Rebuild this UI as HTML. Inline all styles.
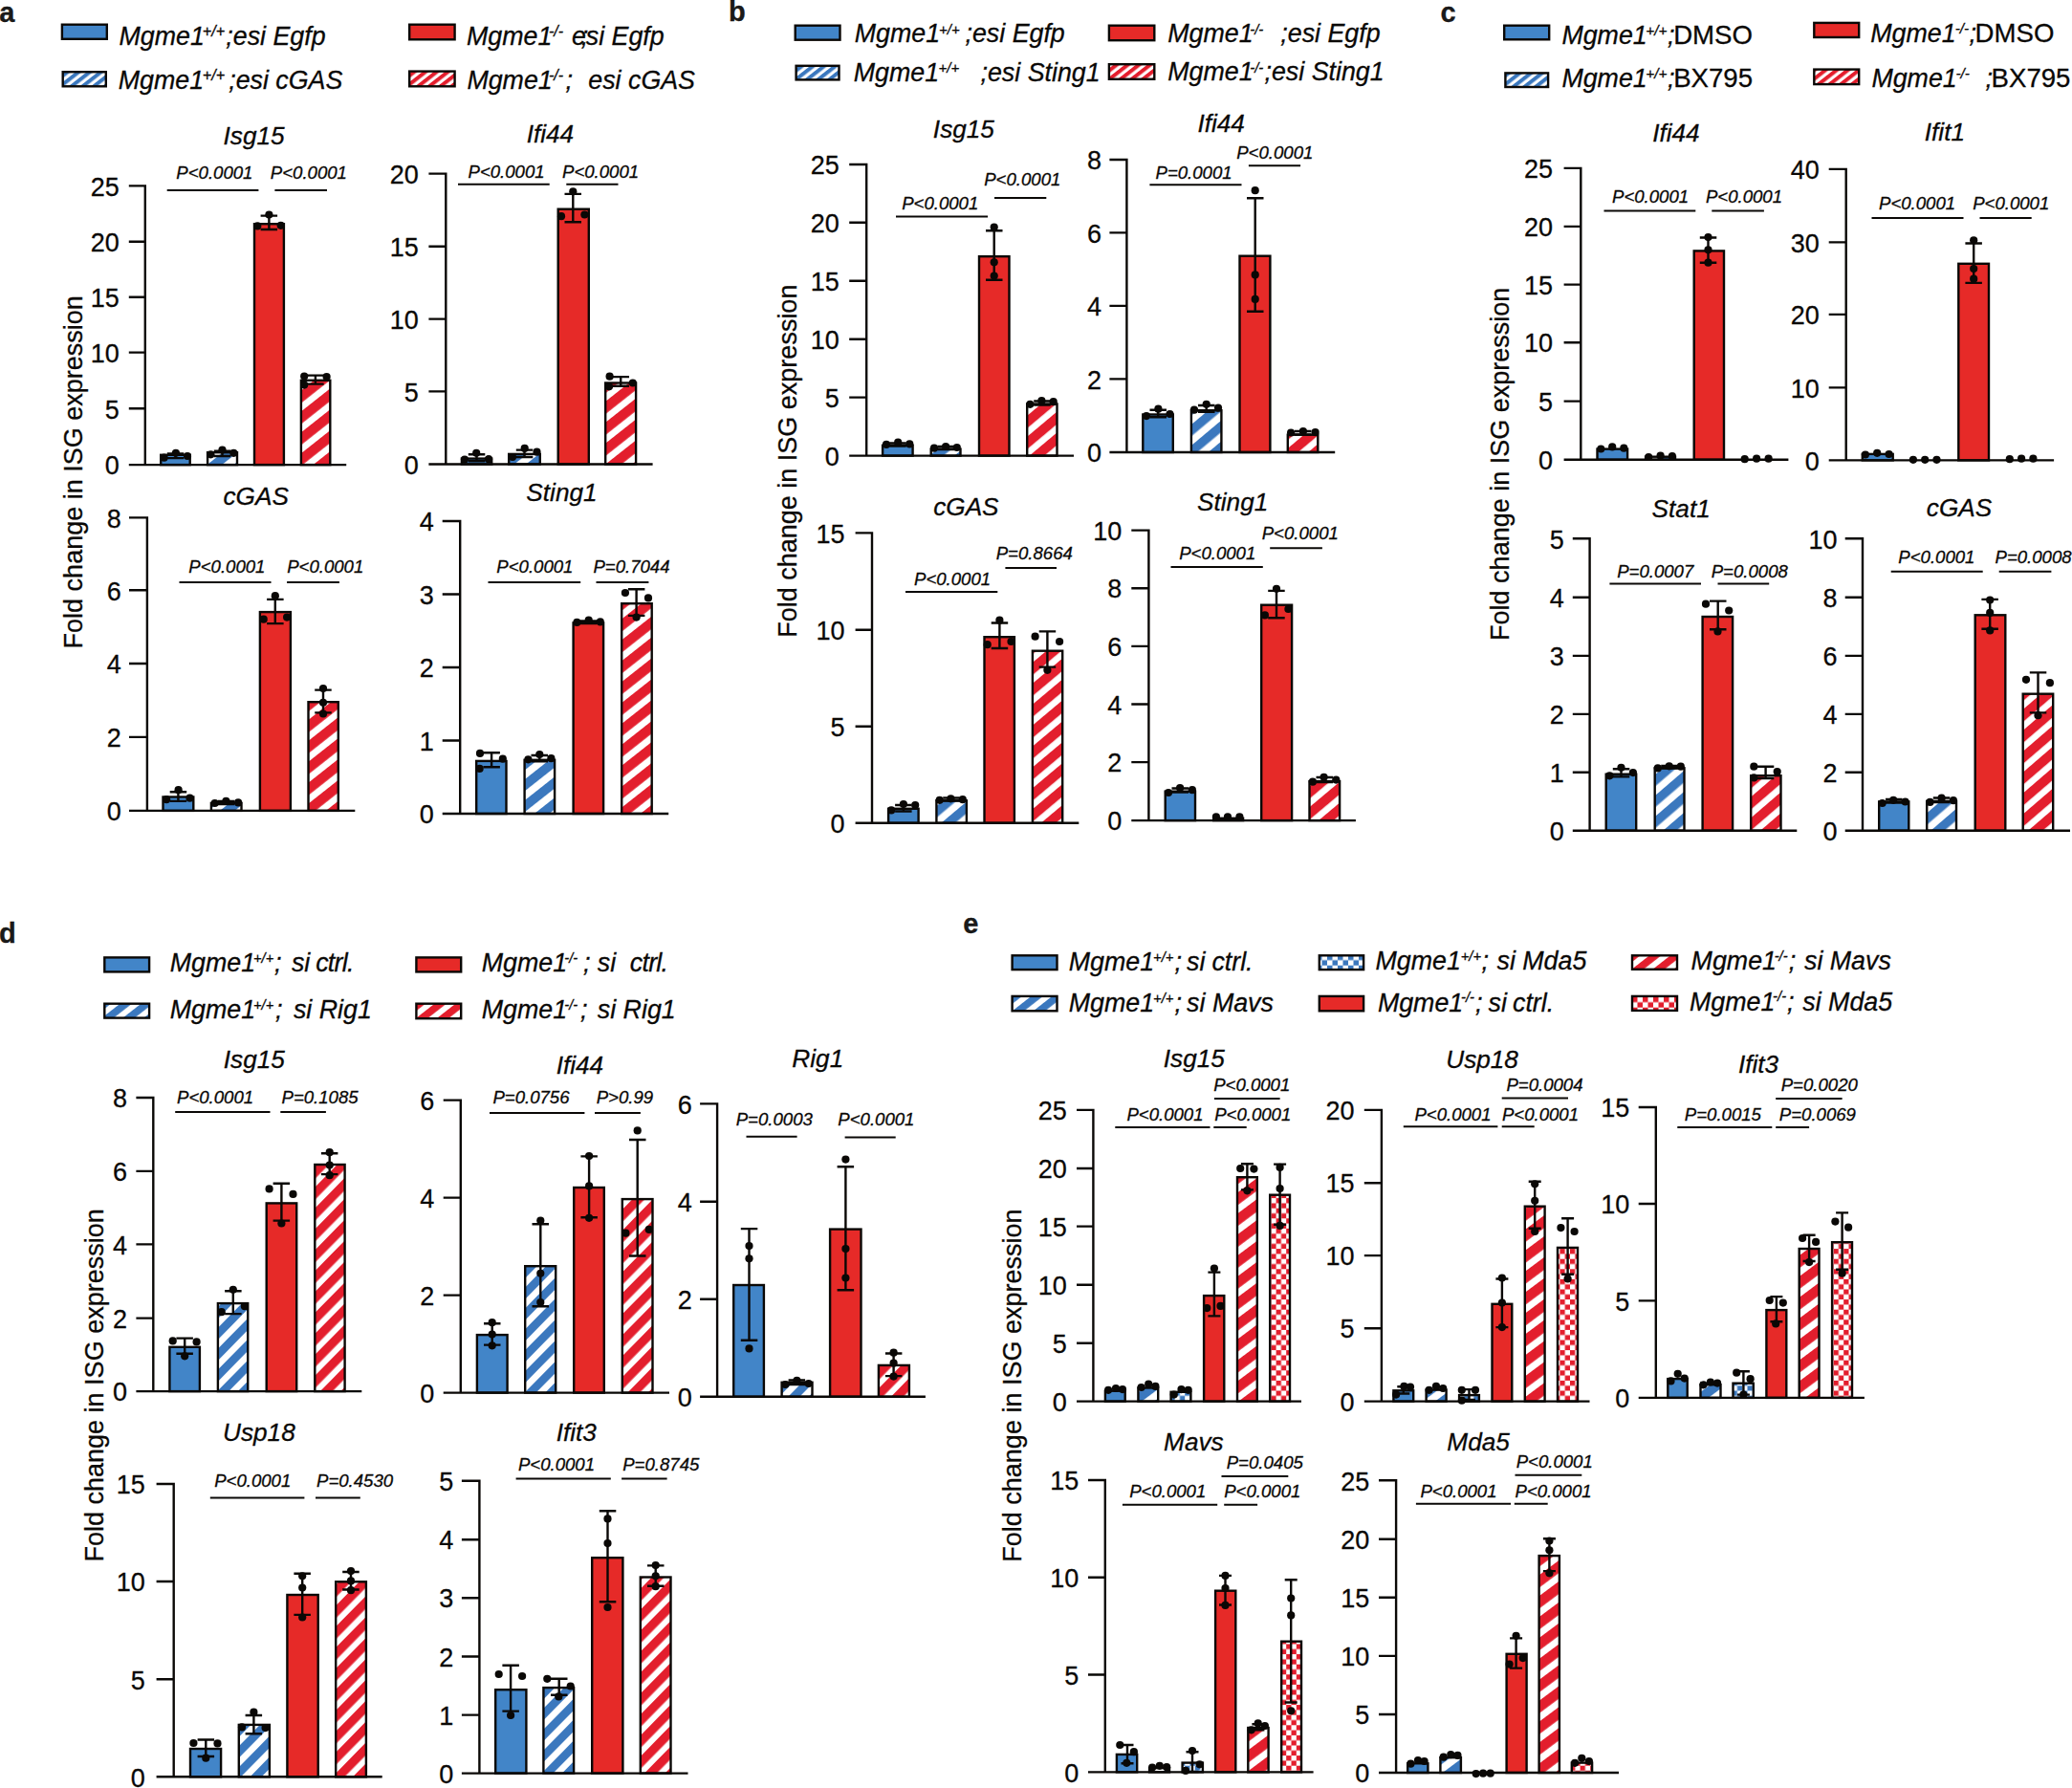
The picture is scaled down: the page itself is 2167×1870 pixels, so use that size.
<!DOCTYPE html>
<html lang="en"><head><meta charset="utf-8"><title>Figure: fold change in ISG expression</title>
<style>
html,body{margin:0;padding:0;background:#fff}
svg{display:block;font-family:"Liberation Sans",sans-serif;fill:#0a0806}text{stroke:#0a0806;stroke-width:0.28px}
.bar{stroke:#0a0806;stroke-width:2.4}
.sw{stroke:#0a0806;stroke-width:2.4}
.ax{stroke:#0a0806;stroke-width:2.4;fill:none}
.eb{stroke:#0a0806;stroke-width:2.4;fill:none}
.pl{stroke:#0a0806;stroke-width:2.0;fill:none}
.tk{font-size:27.0px;text-anchor:end}
.tt{font-size:26.2px;font-style:italic;text-anchor:middle}
.pv{font-size:18.6px;font-style:italic;text-anchor:middle}
.lg{font-size:26.8px;font-style:italic}
.rg{font-style:normal;font-size:27.6px}
.sp{font-size:15.4px}
.yl{font-size:27.0px}
.pn{font-size:29px;font-weight:bold;fill:#1a1a1a}
</style></head><body>
<svg width="2167" height="1870" viewBox="0 0 2167 1870">
<rect width="2167" height="1870" fill="#fff"/>
<defs>
<pattern id="hRa" patternUnits="userSpaceOnUse" width="40" height="17.19" patternTransform="rotate(-38.3)"><rect width="40" height="17.19" fill="#fff"/><rect width="40" height="10.31" fill="#E31E2D"/></pattern>
<pattern id="hBa" patternUnits="userSpaceOnUse" width="40" height="17.19" patternTransform="rotate(-38.3)"><rect width="40" height="17.19" fill="#fff"/><rect width="40" height="9.62" fill="#3B78BE"/></pattern>
<pattern id="hRb" patternUnits="userSpaceOnUse" width="40" height="16.78" patternTransform="rotate(-40.0)"><rect width="40" height="16.78" fill="#fff"/><rect width="40" height="10.07" fill="#E31E2D"/></pattern>
<pattern id="hBb" patternUnits="userSpaceOnUse" width="40" height="16.78" patternTransform="rotate(-40.0)"><rect width="40" height="16.78" fill="#fff"/><rect width="40" height="9.39" fill="#3B78BE"/></pattern>
<pattern id="hRc" patternUnits="userSpaceOnUse" width="40" height="16.6" patternTransform="rotate(-40.7)"><rect width="40" height="16.6" fill="#fff"/><rect width="40" height="9.96" fill="#E31E2D"/></pattern>
<pattern id="hBc" patternUnits="userSpaceOnUse" width="40" height="16.6" patternTransform="rotate(-40.7)"><rect width="40" height="16.6" fill="#fff"/><rect width="40" height="9.3" fill="#3B78BE"/></pattern>
<pattern id="hRd" patternUnits="userSpaceOnUse" width="40" height="15.35" patternTransform="rotate(-45.5)"><rect width="40" height="15.35" fill="#fff"/><rect width="40" height="9.21" fill="#E31E2D"/></pattern>
<pattern id="hBd" patternUnits="userSpaceOnUse" width="40" height="15.35" patternTransform="rotate(-45.5)"><rect width="40" height="15.35" fill="#fff"/><rect width="40" height="8.6" fill="#3B78BE"/></pattern>
<pattern id="hRe" patternUnits="userSpaceOnUse" width="40" height="17.56" patternTransform="rotate(-36.7)"><rect width="40" height="17.56" fill="#fff"/><rect width="40" height="10.54" fill="#E31E2D"/></pattern>
<pattern id="hBe" patternUnits="userSpaceOnUse" width="40" height="17.56" patternTransform="rotate(-36.7)"><rect width="40" height="17.56" fill="#fff"/><rect width="40" height="9.83" fill="#3B78BE"/></pattern>
<pattern id="lR" patternUnits="userSpaceOnUse" width="40" height="7.2" patternTransform="rotate(-38)"><rect width="40" height="7.2" fill="#fff"/><rect width="40" height="4.0" fill="#E31E2D"/></pattern>
<pattern id="lB" patternUnits="userSpaceOnUse" width="40" height="7.2" patternTransform="rotate(-38)"><rect width="40" height="7.2" fill="#fff"/><rect width="40" height="4.0" fill="#3B78BE"/></pattern>
<pattern id="lR2" patternUnits="userSpaceOnUse" width="40" height="13.5" patternTransform="rotate(-38)"><rect width="40" height="13.5" fill="#fff"/><rect width="40" height="7.6" fill="#E31E2D"/></pattern>
<pattern id="lB2" patternUnits="userSpaceOnUse" width="40" height="13.5" patternTransform="rotate(-38)"><rect width="40" height="13.5" fill="#fff"/><rect width="40" height="7.6" fill="#3B78BE"/></pattern>
<pattern id="cR" patternUnits="userSpaceOnUse" x="1377" y="998.7" width="10.6" height="10.6"><rect width="10.6" height="10.6" fill="#fff"/><rect width="5.3" height="5.3" fill="#E31E2D"/><rect x="5.3" y="5.3" width="5.3" height="5.3" fill="#E31E2D"/></pattern>
<pattern id="cB" patternUnits="userSpaceOnUse" x="1377" y="998.7" width="10.6" height="10.6"><rect width="10.6" height="10.6" fill="#fff"/><rect width="5.3" height="5.3" fill="#3B78BE"/><rect x="5.3" y="5.3" width="5.3" height="5.3" fill="#3B78BE"/></pattern>
<pattern id="lcR" patternUnits="userSpaceOnUse" x="1377" y="998.7" width="11.0" height="11.0"><rect width="11.0" height="11.0" fill="#fff"/><rect width="5.5" height="5.5" fill="#E31E2D"/><rect x="5.5" y="5.5" width="5.5" height="5.5" fill="#E31E2D"/></pattern>
<pattern id="lcB" patternUnits="userSpaceOnUse" x="1377" y="998.7" width="11.0" height="11.0"><rect width="11.0" height="11.0" fill="#fff"/><rect width="5.5" height="5.5" fill="#3B78BE"/><rect x="5.5" y="5.5" width="5.5" height="5.5" fill="#3B78BE"/></pattern>
</defs>
<text class="pn" x="-0.8" y="22.8">a</text>
<text class="pn" x="762" y="22.2">b</text>
<text class="pn" x="1506.6" y="23">c</text>
<text class="pn" x="-1" y="985.7">d</text>
<text class="pn" x="1007.3" y="975.6">e</text>
<rect class="sw" x="64.9" y="25.7" width="46.9" height="15.1" fill="#4285C8"/>
<rect class="sw" x="65.7" y="75.2" width="45.1" height="15.1" fill="url(#lB)"/>
<rect class="sw" x="428.2" y="25.7" width="47.4" height="15.6" fill="#E62A28"/>
<rect class="sw" x="428.2" y="74.6" width="47.4" height="15.7" fill="url(#lR)"/>
<text class="lg"><tspan x="124.5" y="46.9">Mgme1</tspan><tspan font-size="16.2" x="211.8" y="37.9">+/+</tspan><tspan x="236.3" y="46.9">;esi Egfp</tspan></text>
<text class="lg"><tspan x="123.8" y="92.5">Mgme1</tspan><tspan font-size="16.2" x="211.8" y="83.5">+/+</tspan><tspan x="239.2" y="92.5">;esi cGAS</tspan></text>
<text class="lg"><tspan x="488" y="47.1">Mgme1</tspan><tspan font-size="16.2" x="573.9" y="38.1">-/-</tspan><tspan x="597.9" y="47.1">esi Egfp</tspan><tspan x="607.8" y="47.1">;</tspan></text>
<text class="lg"><tspan x="488.4" y="92.5">Mgme1</tspan><tspan font-size="16.2" x="573.9" y="83.5">-/-</tspan><tspan x="591.5" y="92.5">;</tspan><tspan x="615.3" y="92.5">esi cGAS</tspan></text>
<rect class="sw" x="831.7" y="26.7" width="46.8" height="15" fill="#4285C8"/>
<rect class="sw" x="832.6" y="68.8" width="44.9" height="14.6" fill="url(#lB)"/>
<rect class="sw" x="1159.9" y="26.7" width="47.4" height="15.5" fill="#E62A28"/>
<rect class="sw" x="1159.9" y="67.2" width="47.4" height="15.6" fill="url(#lR)"/>
<text class="lg"><tspan x="893.8" y="44.3">Mgme1</tspan><tspan font-size="15.0" x="982" y="36">+/+</tspan><tspan x="1009.5" y="44.3">;esi Egfp</tspan></text>
<text class="lg"><tspan x="892.8" y="84.6">Mgme1</tspan><tspan font-size="15.0" x="981.6" y="76.3">+/+</tspan><tspan x="1025.5" y="84.6">;esi Sting1</tspan></text>
<text class="lg"><tspan x="1221.2" y="44.3">Mgme1</tspan><tspan font-size="15.0" x="1307.2" y="36">-/-</tspan><tspan x="1339.3" y="44.3">;esi Egfp</tspan></text>
<text class="lg"><tspan x="1221.2" y="84">Mgme1</tspan><tspan font-size="15.0" x="1307.2" y="75.7">-/-</tspan><tspan x="1322.5" y="84">;esi Sting1</tspan></text>
<rect class="sw" x="1573.2" y="26.7" width="47" height="14.6" fill="#4285C8"/>
<rect class="sw" x="1574.4" y="76.4" width="44.7" height="14.6" fill="url(#lB)"/>
<rect class="sw" x="1897.3" y="23.9" width="46.9" height="15.1" fill="#E62A28"/>
<rect class="sw" x="1897.3" y="72.6" width="46.9" height="15.5" fill="url(#lR)"/>
<text class="lg"><tspan x="1633.4" y="45.9">Mgme1</tspan><tspan font-size="15.4" x="1721.2" y="37.2">+/+</tspan><tspan x="1744.1" y="45.9">;</tspan><tspan class="rg" x="1750.2" y="45.9">DMSO</tspan></text>
<text class="lg"><tspan x="1633.4" y="91.1">Mgme1</tspan><tspan font-size="15.4" x="1721.2" y="82.4">+/+</tspan><tspan x="1744.1" y="91.1">;</tspan><tspan class="rg" x="1750.2" y="91.1">BX795</tspan></text>
<text class="lg"><tspan x="1956.2" y="43.6">Mgme1</tspan><tspan font-size="15.4" x="2044.7" y="34.9">-/-</tspan><tspan x="2059.5" y="43.6">;</tspan><tspan class="rg" x="2065.6" y="43.6">DMSO</tspan></text>
<text class="lg"><tspan x="1957.4" y="91.1">Mgme1</tspan><tspan font-size="15.4" x="2045.4" y="82.4">-/-</tspan><tspan x="2076.6" y="91.1">;</tspan><tspan class="rg" x="2082.6" y="91.1">BX795</tspan></text>
<rect class="sw" x="109.3" y="1001.4" width="46.8" height="15" fill="#4285C8"/>
<rect class="sw" x="109.3" y="1049.7" width="46.8" height="14.9" fill="url(#lB2)"/>
<rect class="sw" x="435.4" y="1001.4" width="46.8" height="15" fill="#E62A28"/>
<rect class="sw" x="435.4" y="1049.7" width="46.8" height="15.5" fill="url(#lR2)"/>
<text class="lg"><tspan x="177.8" y="1016.2">Mgme1</tspan><tspan font-size="14.6" x="265.1" y="1006.7">+/+</tspan><tspan x="287.1" y="1016.2">;</tspan><tspan x="304.9" y="1016.2">si</tspan><tspan x="330.2" y="1016.2" letter-spacing="-0.75">ctrl.</tspan></text>
<text class="lg"><tspan x="177.8" y="1065">Mgme1</tspan><tspan font-size="14.6" x="265.1" y="1055.5">+/+</tspan><tspan x="288.1" y="1065">;</tspan><tspan x="306.9" y="1065">si Rig1</tspan></text>
<text class="lg"><tspan x="503.8" y="1016.2">Mgme1</tspan><tspan font-size="14.6" x="590.3" y="1006.7">-/-</tspan><tspan x="609.9" y="1016.2">;</tspan><tspan x="624.8" y="1016.2">si</tspan><tspan x="658.8" y="1016.2" letter-spacing="-0.75">ctrl.</tspan></text>
<text class="lg"><tspan x="503.8" y="1065">Mgme1</tspan><tspan font-size="14.6" x="590.3" y="1055.5">-/-</tspan><tspan x="607" y="1065">;</tspan><tspan x="624.8" y="1065">si Rig1</tspan></text>
<rect class="sw" x="1058.6" y="999.3" width="46.9" height="14.8" fill="#4285C8"/>
<rect class="sw" x="1058.6" y="1041.9" width="46.9" height="15.4" fill="url(#lB2)"/>
<rect class="sw" x="1379.8" y="999.3" width="46.3" height="14.8" fill="url(#lcB)"/>
<rect class="sw" x="1379.8" y="1041.9" width="46.3" height="15.4" fill="#E62A28"/>
<rect class="sw" x="1707" y="999.3" width="47" height="14.5" fill="url(#lR2)"/>
<rect class="sw" x="1707" y="1041.9" width="47" height="15" fill="url(#lcR)"/>
<text class="lg"><tspan x="1117.7" y="1015">Mgme1</tspan><tspan font-size="14.8" x="1206.1" y="1005.5">+/+</tspan><tspan x="1228.4" y="1015">;</tspan><tspan x="1241.1" y="1015">si</tspan><tspan x="1267.4" y="1015">ctrl.</tspan></text>
<text class="lg"><tspan x="1117.7" y="1058">Mgme1</tspan><tspan font-size="14.8" x="1206.1" y="1048.5">+/+</tspan><tspan x="1228.4" y="1058">;</tspan><tspan x="1241.1" y="1058">si Mavs</tspan></text>
<text class="lg"><tspan x="1438.5" y="1014.2">Mgme1</tspan><tspan font-size="14.8" x="1527.7" y="1004.7">+/+</tspan><tspan x="1549.5" y="1014.2">;</tspan><tspan x="1565.5" y="1014.2">si Mda5</tspan></text>
<text class="lg"><tspan x="1440.9" y="1057.6">Mgme1</tspan><tspan font-size="14.8" x="1528" y="1048.1">-/-</tspan><tspan x="1543" y="1057.6">;</tspan><tspan x="1556.5" y="1057.6">si</tspan><tspan x="1582" y="1057.6">ctrl.</tspan></text>
<text class="lg"><tspan x="1768.6" y="1014.2">Mgme1</tspan><tspan font-size="14.8" x="1855.7" y="1004.7">-/-</tspan><tspan x="1870.7" y="1014.2">;</tspan><tspan x="1887" y="1014.2">si Mavs</tspan></text>
<text class="lg"><tspan x="1767" y="1056.8">Mgme1</tspan><tspan font-size="14.8" x="1854.1" y="1047.3">-/-</tspan><tspan x="1869" y="1056.8">;</tspan><tspan x="1885.3" y="1056.8">si Mda5</tspan></text>
<text class="yl" transform="translate(85.5 678.4) rotate(-90)">Fold change in ISG expression</text>
<text class="yl" transform="translate(833 666.8) rotate(-90)">Fold change in ISG expression</text>
<text class="yl" transform="translate(1578.2 669.9) rotate(-90)">Fold change in ISG expression</text>
<text class="yl" transform="translate(107.8 1633.5) rotate(-90)">Fold change in ISG expression</text>
<text class="yl" transform="translate(1067.8 1633.7) rotate(-90)">Fold change in ISG expression</text>
<g class="chart">
<rect class="bar" x="168.2" y="475.8" width="30.5" height="10.3" fill="#4285C8"/>
<rect class="bar" x="217.1" y="473.2" width="30.9" height="12.9" fill="url(#hBa)"/>
<rect class="bar" x="266" y="234.2" width="30.9" height="251.9" fill="#E62A28"/>
<rect class="bar" x="314.9" y="397.8" width="30.4" height="88.3" fill="url(#hRa)"/>
<path class="ax" d="M151.8 193.2V486.1M134.8 486.1H362.2M134.8 194.4H151.8M134.8 252.8H151.8M134.8 310.8H151.8M134.8 368.6H151.8M134.8 427.3H151.8"/>
<text class="tk" x="124.9" y="204.6">25</text>
<text class="tk" x="124.9" y="263">20</text>
<text class="tk" x="124.9" y="321">15</text>
<text class="tk" x="124.9" y="378.8">10</text>
<text class="tk" x="124.9" y="437.5">5</text>
<text class="tk" x="124.9" y="496.3">0</text>
<path class="eb" d="M183.5 474.4V479.1M174.8 474.4h17.5M174.8 479.1h17.5M232.5 471.7V477M223.8 471.7h17.5M223.8 477h17.5M281.4 225.6V240M272.6 225.6h17.5M272.6 240h17.5M329.9 392.6V401.6M321.1 392.6h17.5M321.1 401.6h17.5"/>
<circle cx="171.6" cy="478.7" r="4.1"/>
<circle cx="183.9" cy="473.8" r="4.1"/>
<circle cx="196" cy="477" r="4.1"/>
<circle cx="220.4" cy="475.3" r="4.1"/>
<circle cx="232.5" cy="470.6" r="4.1"/>
<circle cx="244.4" cy="473.8" r="4.1"/>
<circle cx="281.4" cy="224.5" r="4.1"/>
<circle cx="269.3" cy="236.4" r="4.1"/>
<circle cx="293.7" cy="235.8" r="4.1"/>
<circle cx="318.2" cy="393.5" r="4.1"/>
<circle cx="341.6" cy="394.1" r="4.1"/>
<circle cx="318.2" cy="402.6" r="4.1"/>
<text class="pv" x="224.4" y="187">P&lt;0.0001</text>
<path class="pl" d="M174.7 199H270.4"/>
<text class="pv" x="322.9" y="187">P&lt;0.0001</text>
<path class="pl" d="M287.4 199H342"/>
<text class="tt" x="265.6" y="150.7">Isg15</text>
</g>
<g class="chart">
<rect class="bar" x="482.9" y="479.6" width="31.3" height="5.9" fill="#4285C8"/>
<rect class="bar" x="532.2" y="474.9" width="32.6" height="10.6" fill="url(#hBa)"/>
<rect class="bar" x="583.7" y="218.7" width="32.1" height="266.8" fill="#E62A28"/>
<rect class="bar" x="633.2" y="400.5" width="31.9" height="85" fill="url(#hRa)"/>
<path class="ax" d="M466.3 180.4V485.5M448.4 485.5H682.6M448.4 181.6H466.3M448.4 257.7H466.3M448.4 333.6H466.3M448.4 409.4H466.3"/>
<text class="tk" x="437.7" y="191.8">20</text>
<text class="tk" x="437.7" y="267.9">15</text>
<text class="tk" x="437.7" y="343.8">10</text>
<text class="tk" x="437.7" y="419.6">5</text>
<text class="tk" x="437.7" y="495.7">0</text>
<path class="eb" d="M498.5 475.3V482.3M489.8 475.3h17.5M489.8 482.3h17.5M548.5 470.6V478M539.8 470.6h17.5M539.8 478h17.5M599.3 202.9V232.2M590.5 202.9h17.5M590.5 232.2h17.5M649.2 394.1V403.7M640.5 394.1h17.5M640.5 403.7h17.5"/>
<circle cx="498.2" cy="473.8" r="4.1"/>
<circle cx="486" cy="480.6" r="4.1"/>
<circle cx="511" cy="480.2" r="4.1"/>
<circle cx="548.7" cy="468.9" r="4.1"/>
<circle cx="536" cy="478" r="4.1"/>
<circle cx="561.5" cy="472.7" r="4.1"/>
<circle cx="599.3" cy="200.3" r="4.1"/>
<circle cx="587" cy="226.2" r="4.1"/>
<circle cx="611.4" cy="224.5" r="4.1"/>
<circle cx="637.6" cy="393.7" r="4.1"/>
<circle cx="661.8" cy="400.5" r="4.1"/>
<circle cx="637" cy="404.3" r="4.1"/>
<text class="pv" x="529.6" y="186.3">P&lt;0.0001</text>
<path class="pl" d="M479 192.7H574.7"/>
<text class="pv" x="628.1" y="186.3">P&lt;0.0001</text>
<path class="pl" d="M592.3 192.7H646.5"/>
<text class="tt" x="575.4" y="149.3">Ifi44</text>
</g>
<g class="chart">
<rect class="bar" x="170.5" y="833.5" width="31.8" height="14.4" fill="#4285C8"/>
<rect class="bar" x="220.9" y="839.9" width="31.6" height="8" fill="url(#hBa)"/>
<rect class="bar" x="271.9" y="640.1" width="32" height="207.8" fill="#E62A28"/>
<rect class="bar" x="322.5" y="734.2" width="31.3" height="113.7" fill="url(#hRa)"/>
<path class="ax" d="M153.9 540.2V847.9M135 847.9H371.3M135 541.4H153.9M135 617.3H153.9M135 694H153.9M135 770.9H153.9"/>
<text class="tk" x="126.8" y="551.6">8</text>
<text class="tk" x="126.8" y="627.5">6</text>
<text class="tk" x="126.8" y="704.2">4</text>
<text class="tk" x="126.8" y="781.1">2</text>
<text class="tk" x="126.8" y="858.1">0</text>
<path class="eb" d="M186.4 828.3V837.9M177.7 828.3h17.5M177.7 837.9h17.5M236.7 838V841M227.9 838h17.5M227.9 841h17.5M287.8 626.9V652.1M279.1 626.9h17.5M279.1 652.1h17.5M338 721.6V745.4M329.2 721.6h17.5M329.2 745.4h17.5"/>
<circle cx="186.6" cy="826.2" r="4.1"/>
<circle cx="174.1" cy="836.2" r="4.1"/>
<circle cx="198.5" cy="834.7" r="4.1"/>
<circle cx="224.7" cy="840" r="4.1"/>
<circle cx="236.4" cy="837.9" r="4.1"/>
<circle cx="249.1" cy="839.4" r="4.1"/>
<circle cx="287.8" cy="623.2" r="4.1"/>
<circle cx="275.7" cy="647.7" r="4.1"/>
<circle cx="300.1" cy="645.6" r="4.1"/>
<circle cx="338" cy="720" r="4.1"/>
<circle cx="338" cy="734.8" r="4.1"/>
<circle cx="338" cy="746.5" r="4.1"/>
<text class="pv" x="237.4" y="599.4">P&lt;0.0001</text>
<path class="pl" d="M187.5 609H283.5"/>
<text class="pv" x="340.2" y="599.4">P&lt;0.0001</text>
<path class="pl" d="M300.1 609H354.9"/>
<text class="tt" x="267.7" y="528">cGAS</text>
</g>
<g class="chart">
<rect class="bar" x="498.2" y="795.9" width="31.3" height="55.1" fill="#4285C8"/>
<rect class="bar" x="548.6" y="794.8" width="31.5" height="56.2" fill="url(#hBa)"/>
<rect class="bar" x="599.6" y="651.4" width="31.5" height="199.6" fill="#E62A28"/>
<rect class="bar" x="650.2" y="631.2" width="31.5" height="219.8" fill="url(#hRa)"/>
<path class="ax" d="M481.2 543.8V851M462.7 851H699.2M462.7 545H481.2M462.7 621.5H481.2M462.7 698H481.2M462.7 774.5H481.2"/>
<text class="tk" x="453.9" y="555.2">4</text>
<text class="tk" x="453.9" y="631.7">3</text>
<text class="tk" x="453.9" y="708.2">2</text>
<text class="tk" x="453.9" y="784.7">1</text>
<text class="tk" x="453.9" y="861.2">0</text>
<path class="eb" d="M514.1 787.3V802.2M505.4 787.3h17.5M505.4 802.2h17.5M564.3 790V796.4M555.5 790h17.5M555.5 796.4h17.5M615.4 649.5V652M606.6 649.5h17.5M606.6 652h17.5M665.6 616.2V643.9M656.9 616.2h17.5M656.9 643.9h17.5"/>
<circle cx="502" cy="787.9" r="4.1"/>
<circle cx="525.8" cy="793.7" r="4.1"/>
<circle cx="501.6" cy="803.9" r="4.1"/>
<circle cx="552.4" cy="794.3" r="4.1"/>
<circle cx="564.3" cy="789" r="4.1"/>
<circle cx="576.4" cy="793.2" r="4.1"/>
<circle cx="603.4" cy="650.9" r="4.1"/>
<circle cx="615.7" cy="648.7" r="4.1"/>
<circle cx="627.8" cy="650.4" r="4.1"/>
<circle cx="653.9" cy="620" r="4.1"/>
<circle cx="678" cy="625.4" r="4.1"/>
<circle cx="665.6" cy="645.6" r="4.1"/>
<text class="pv" x="559.4" y="599.4">P&lt;0.0001</text>
<path class="pl" d="M510.5 609H607.2"/>
<text class="pv" x="660.5" y="599.4">P=0.7044</text>
<path class="pl" d="M623.5 609H678.4"/>
<text class="tt" x="587.5" y="524.4">Sting1</text>
</g>
<g class="chart">
<rect class="bar" x="923.1" y="465.8" width="31.5" height="10.8" fill="#4285C8"/>
<rect class="bar" x="973.7" y="469.6" width="30.8" height="7" fill="url(#hBb)"/>
<rect class="bar" x="1024" y="268.2" width="31.5" height="208.4" fill="#E62A28"/>
<rect class="bar" x="1074.2" y="422.5" width="31.3" height="54.1" fill="url(#hRb)"/>
<path class="ax" d="M906.2 170.8V476.6M888.2 476.6H1123M888.2 172H906.2M888.2 232.8H906.2M888.2 293.8H906.2M888.2 354.8H906.2M888.2 415.6H906.2"/>
<text class="tk" x="877.7" y="182.2">25</text>
<text class="tk" x="877.7" y="243">20</text>
<text class="tk" x="877.7" y="304">15</text>
<text class="tk" x="877.7" y="365">10</text>
<text class="tk" x="877.7" y="425.8">5</text>
<text class="tk" x="877.7" y="486.8">0</text>
<path class="eb" d="M939 463.5V466.5M930.2 463.5h17.5M930.2 466.5h17.5M989.1 467V470M980.4 467h17.5M980.4 470h17.5M1039.7 241.3V292.7M1031 241.3h17.5M1031 292.7h17.5M1089.9 419.5V423.5M1081.2 419.5h17.5M1081.2 423.5h17.5"/>
<circle cx="927" cy="464.9" r="4.1"/>
<circle cx="939.2" cy="462.7" r="4.1"/>
<circle cx="951.3" cy="464.4" r="4.1"/>
<circle cx="977" cy="468.7" r="4.1"/>
<circle cx="989.1" cy="467" r="4.1"/>
<circle cx="1000.8" cy="468" r="4.1"/>
<circle cx="1039.7" cy="237.5" r="4.1"/>
<circle cx="1039.7" cy="274.3" r="4.1"/>
<circle cx="1039.7" cy="288.5" r="4.1"/>
<circle cx="1077.3" cy="422.8" r="4.1"/>
<circle cx="1089.4" cy="419.2" r="4.1"/>
<circle cx="1101.7" cy="420.2" r="4.1"/>
<text class="pv" x="983.2" y="219.4">P&lt;0.0001</text>
<path class="pl" d="M937 226.4H1033.1"/>
<text class="pv" x="1069.3" y="194">P&lt;0.0001</text>
<path class="pl" d="M1040 207H1094.3"/>
<text class="tt" x="1007.9" y="143.6">Isg15</text>
</g>
<g class="chart">
<rect class="bar" x="1195.3" y="433.5" width="31.5" height="39.5" fill="#4285C8"/>
<rect class="bar" x="1245.9" y="429.2" width="31.5" height="43.8" fill="url(#hBb)"/>
<rect class="bar" x="1296.5" y="267.7" width="31.9" height="205.3" fill="#E62A28"/>
<rect class="bar" x="1346.8" y="454.7" width="31.5" height="18.3" fill="url(#hRb)"/>
<path class="ax" d="M1178.4 165.8V473M1160.4 473H1396.2M1160.4 167H1178.4M1160.4 243.4H1178.4M1160.4 319.9H1178.4M1160.4 396.4H1178.4"/>
<text class="tk" x="1152" y="177.2">8</text>
<text class="tk" x="1152" y="253.6">6</text>
<text class="tk" x="1152" y="330.1">4</text>
<text class="tk" x="1152" y="406.6">2</text>
<text class="tk" x="1152" y="483.2">0</text>
<path class="eb" d="M1211.2 428.7V436.2M1202.5 428.7h17.5M1202.5 436.2h17.5M1261.7 424V430.9M1253 424h17.5M1253 430.9h17.5M1312.7 207.3V325.7M1304 207.3h17.5M1304 325.7h17.5M1362.7 451V454.5M1354 451h17.5M1354 454.5h17.5"/>
<circle cx="1199" cy="435.1" r="4.1"/>
<circle cx="1211.4" cy="427.7" r="4.1"/>
<circle cx="1223.5" cy="433" r="4.1"/>
<circle cx="1249" cy="428.7" r="4.1"/>
<circle cx="1261.7" cy="422.8" r="4.1"/>
<circle cx="1274" cy="426.6" r="4.1"/>
<circle cx="1312.7" cy="199.2" r="4.1"/>
<circle cx="1312.7" cy="287.4" r="4.1"/>
<circle cx="1312.7" cy="312.9" r="4.1"/>
<circle cx="1350.1" cy="452.5" r="4.1"/>
<circle cx="1362.9" cy="451" r="4.1"/>
<circle cx="1375.6" cy="452.1" r="4.1"/>
<text class="pv" x="1248.6" y="186.5">P=0.0001</text>
<path class="pl" d="M1202.4 193.3H1298.5"/>
<text class="pv" x="1333.3" y="166.3">P&lt;0.0001</text>
<path class="pl" d="M1305.9 173.3H1360.1"/>
<text class="tt" x="1277.2" y="138">Ifi44</text>
</g>
<g class="chart">
<rect class="bar" x="929.1" y="845.8" width="31.5" height="15" fill="#4285C8"/>
<rect class="bar" x="979.4" y="837.3" width="31.5" height="23.5" fill="url(#hBb)"/>
<rect class="bar" x="1029.5" y="666.2" width="31.4" height="194.6" fill="#E62A28"/>
<rect class="bar" x="1079.9" y="680.7" width="31.3" height="180.1" fill="url(#hRb)"/>
<path class="ax" d="M912 556.2V860.8M894.6 860.8H1128.3M894.6 557.4H912M894.6 658.7H912M894.6 759.7H912"/>
<text class="tk" x="883.6" y="567.6">15</text>
<text class="tk" x="883.6" y="668.9">10</text>
<text class="tk" x="883.6" y="769.9">5</text>
<text class="tk" x="883.6" y="871">0</text>
<path class="eb" d="M944.9 842V848.5M936.1 842h17.5M936.1 848.5h17.5M995 834.5V837.5M986.2 834.5h17.5M986.2 837.5h17.5M1045.4 651.5V678M1036.7 651.5h17.5M1036.7 678h17.5M1095.4 660.4V697.6M1086.7 660.4h17.5M1086.7 697.6h17.5"/>
<circle cx="932.2" cy="847.4" r="4.1"/>
<circle cx="944.9" cy="841" r="4.1"/>
<circle cx="957.2" cy="842.1" r="4.1"/>
<circle cx="982.7" cy="836.8" r="4.1"/>
<circle cx="994.4" cy="835.3" r="4.1"/>
<circle cx="1006.8" cy="836.2" r="4.1"/>
<circle cx="1045.4" cy="648.7" r="4.1"/>
<circle cx="1032.7" cy="674.2" r="4.1"/>
<circle cx="1057.5" cy="671" r="4.1"/>
<circle cx="1082.6" cy="665.7" r="4.1"/>
<circle cx="1108.1" cy="671" r="4.1"/>
<circle cx="1095.4" cy="700.8" r="4.1"/>
<text class="pv" x="996.1" y="611.6">P&lt;0.0001</text>
<path class="pl" d="M947 619H1043.3"/>
<text class="pv" x="1081.8" y="585.4">P=0.8664</text>
<path class="pl" d="M1051.4 594.1H1105"/>
<text class="tt" x="1010.4" y="538.7">cGAS</text>
</g>
<g class="chart">
<rect class="bar" x="1218.7" y="827.7" width="31.3" height="30.4" fill="#4285C8"/>
<rect class="bar" x="1269.2" y="855.8" width="30.9" height="2.3" fill="url(#hBb)"/>
<rect class="bar" x="1319.2" y="632.7" width="31.9" height="225.4" fill="#E62A28"/>
<rect class="bar" x="1369.5" y="817.1" width="31.6" height="41" fill="url(#hRb)"/>
<path class="ax" d="M1201.4 553.4V858.1M1183.3 858.1H1417.9M1183.3 554.6H1201.4M1183.3 615.2H1201.4M1183.3 675.9H1201.4M1183.3 736.5H1201.4M1183.3 797.1H1201.4"/>
<text class="tk" x="1173.2" y="564.8">10</text>
<text class="tk" x="1173.2" y="625.4">8</text>
<text class="tk" x="1173.2" y="686.1">6</text>
<text class="tk" x="1173.2" y="746.7">4</text>
<text class="tk" x="1173.2" y="807.3">2</text>
<text class="tk" x="1173.2" y="868.3">0</text>
<path class="eb" d="M1234.3 824.5V828.5M1225.5 824.5h17.5M1225.5 828.5h17.5M1335 617.9V646.2M1326.2 617.9h17.5M1326.2 646.2h17.5M1385.2 813V818M1376.5 813h17.5M1376.5 818h17.5"/>
<circle cx="1222" cy="829" r="4.1"/>
<circle cx="1234.1" cy="824" r="4.1"/>
<circle cx="1246.9" cy="826.2" r="4.1"/>
<circle cx="1271.9" cy="854.4" r="4.1"/>
<circle cx="1284" cy="854.4" r="4.1"/>
<circle cx="1296.4" cy="854.4" r="4.1"/>
<circle cx="1335" cy="615.8" r="4.1"/>
<circle cx="1322.9" cy="643.4" r="4.1"/>
<circle cx="1347.4" cy="637" r="4.1"/>
<circle cx="1372.9" cy="817.7" r="4.1"/>
<circle cx="1384.6" cy="812.8" r="4.1"/>
<circle cx="1397.3" cy="815.6" r="4.1"/>
<text class="pv" x="1273.2" y="585.4">P&lt;0.0001</text>
<path class="pl" d="M1224.5 592.9H1320.8"/>
<text class="pv" x="1359.8" y="564.2">P&lt;0.0001</text>
<path class="pl" d="M1328.2 573.3H1382.9"/>
<text class="tt" x="1289.2" y="533.6">Sting1</text>
</g>
<g class="chart">
<rect class="bar" x="1670.5" y="469.6" width="31.6" height="11.2" fill="#4285C8"/>
<rect class="bar" x="1721.1" y="477.7" width="30.9" height="3.1" fill="url(#hBc)"/>
<rect class="bar" x="1771.7" y="262.4" width="31.3" height="218.4" fill="#E62A28"/>
<path class="ax" d="M1653.3 174.7V480.8M1635.6 480.8H1870.4M1635.6 175.9H1653.3M1635.6 236.9H1653.3M1635.6 297.6H1653.3M1635.6 358.2H1653.3M1635.6 419.6H1653.3"/>
<text class="tk" x="1624.1" y="186.1">25</text>
<text class="tk" x="1624.1" y="247.1">20</text>
<text class="tk" x="1624.1" y="307.8">15</text>
<text class="tk" x="1624.1" y="368.4">10</text>
<text class="tk" x="1624.1" y="429.8">5</text>
<text class="tk" x="1624.1" y="491">0</text>
<path class="eb" d="M1786.5 248.5V274.7M1777.8 248.5h17.5M1777.8 274.7h17.5"/>
<circle cx="1674.3" cy="469.5" r="4.1"/>
<circle cx="1686.2" cy="467.4" r="4.1"/>
<circle cx="1698.3" cy="468.7" r="4.1"/>
<circle cx="1724.2" cy="478" r="4.1"/>
<circle cx="1736.6" cy="476.6" r="4.1"/>
<circle cx="1748.9" cy="477.2" r="4.1"/>
<circle cx="1786.5" cy="248.1" r="4.1"/>
<circle cx="1786.5" cy="261.3" r="4.1"/>
<circle cx="1786.5" cy="274.7" r="4.1"/>
<circle cx="1824.7" cy="480.2" r="4.1"/>
<circle cx="1837.1" cy="479.7" r="4.1"/>
<circle cx="1849.6" cy="479.7" r="4.1"/>
<text class="pv" x="1726.1" y="212.4">P&lt;0.0001</text>
<path class="pl" d="M1677.5 220.5H1773.3"/>
<text class="pv" x="1824" y="212.4">P&lt;0.0001</text>
<path class="pl" d="M1790.3 220.5H1844.9"/>
<text class="tt" x="1752.9" y="148.2">Ifi44</text>
</g>
<g class="chart">
<rect class="bar" x="1947.8" y="474.9" width="31.9" height="6.5" fill="#4285C8"/>
<rect class="bar" x="2048.3" y="275.8" width="31.7" height="205.6" fill="#E62A28"/>
<path class="ax" d="M1930.7 175.7V481.4M1912.7 481.4H2148.1M1912.7 176.9H1930.7M1912.7 253.4H1930.7M1912.7 328.9H1930.7M1912.7 405.4H1930.7"/>
<text class="tk" x="1902.8" y="187.1">40</text>
<text class="tk" x="1902.8" y="263.6">30</text>
<text class="tk" x="1902.8" y="339.1">20</text>
<text class="tk" x="1902.8" y="415.6">10</text>
<text class="tk" x="1902.8" y="491.6">0</text>
<path class="eb" d="M2064.2 254.5V295.9M2055.4 254.5h17.5M2055.4 295.9h17.5"/>
<circle cx="1950.9" cy="475.5" r="4.1"/>
<circle cx="1963.2" cy="473.8" r="4.1"/>
<circle cx="1975.6" cy="475" r="4.1"/>
<circle cx="2000.9" cy="480.8" r="4.1"/>
<circle cx="2013.2" cy="480.8" r="4.1"/>
<circle cx="2025.5" cy="480.8" r="4.1"/>
<circle cx="2064.2" cy="251.3" r="4.1"/>
<circle cx="2064.2" cy="281" r="4.1"/>
<circle cx="2064.2" cy="291.7" r="4.1"/>
<circle cx="2101.8" cy="480.2" r="4.1"/>
<circle cx="2114.1" cy="479.7" r="4.1"/>
<circle cx="2126.4" cy="479.7" r="4.1"/>
<text class="pv" x="2005.1" y="219.4">P&lt;0.0001</text>
<path class="pl" d="M1957.5 227.9H2053.5"/>
<text class="pv" x="2103.2" y="219.4">P&lt;0.0001</text>
<path class="pl" d="M2070.5 227.9H2124.7"/>
<text class="tt" x="2033.9" y="147.2">Ifit1</text>
</g>
<g class="chart">
<rect class="bar" x="1679.7" y="809.7" width="31.5" height="59" fill="#4285C8"/>
<rect class="bar" x="1730.7" y="803.3" width="30.8" height="65.4" fill="url(#hBc)"/>
<rect class="bar" x="1780.6" y="645" width="31.5" height="223.7" fill="#E62A28"/>
<rect class="bar" x="1831.2" y="811.2" width="31.3" height="57.5" fill="url(#hRc)"/>
<path class="ax" d="M1662.6 562.1V868.7M1644.8 868.7H1879.3M1644.8 563.3H1662.6M1644.8 624.7H1662.6M1644.8 685.9H1662.6M1644.8 746.9H1662.6M1644.8 807.7H1662.6"/>
<text class="tk" x="1635.8" y="573.5">5</text>
<text class="tk" x="1635.8" y="634.9">4</text>
<text class="tk" x="1635.8" y="696.1">3</text>
<text class="tk" x="1635.8" y="757.1">2</text>
<text class="tk" x="1635.8" y="817.9">1</text>
<text class="tk" x="1635.8" y="878.9">0</text>
<path class="eb" d="M1695.5 804.3V812.4M1686.8 804.3h17.5M1686.8 812.4h17.5M1746 801V803.5M1737.2 801h17.5M1737.2 803.5h17.5M1796.7 628.6V658.3M1788 628.6h17.5M1788 658.3h17.5M1846.6 801.7V814M1837.8 801.7h17.5M1837.8 814h17.5"/>
<circle cx="1683.4" cy="811.3" r="4.1"/>
<circle cx="1695.5" cy="802.8" r="4.1"/>
<circle cx="1707.9" cy="808.1" r="4.1"/>
<circle cx="1733.8" cy="803.4" r="4.1"/>
<circle cx="1745.7" cy="801.3" r="4.1"/>
<circle cx="1757.8" cy="801.7" r="4.1"/>
<circle cx="1784" cy="631.7" r="4.1"/>
<circle cx="1808.2" cy="638.5" r="4.1"/>
<circle cx="1796.5" cy="660.4" r="4.1"/>
<circle cx="1834.3" cy="801.7" r="4.1"/>
<circle cx="1858.7" cy="807" r="4.1"/>
<circle cx="1834.3" cy="813.4" r="4.1"/>
<text class="pv" x="1731.2" y="603.5">P=0.0007</text>
<path class="pl" d="M1683.4 610.5H1779"/>
<text class="pv" x="1829.8" y="603.5">P=0.0008</text>
<path class="pl" d="M1796.5 610.5H1850.2"/>
<text class="tt" x="1758.2" y="541.4">Stat1</text>
</g>
<g class="chart">
<rect class="bar" x="1965.2" y="838.4" width="31.1" height="30.3" fill="#4285C8"/>
<rect class="bar" x="2015.2" y="837.9" width="30.8" height="30.8" fill="url(#hBc)"/>
<rect class="bar" x="2065.7" y="643.3" width="31.6" height="225.4" fill="#E62A28"/>
<rect class="bar" x="2115.7" y="725.7" width="31.5" height="143" fill="url(#hRc)"/>
<path class="ax" d="M1948 562.1V868.7M1929.7 868.7H2165M1929.7 563.3H1948M1929.7 624.7H1948M1929.7 685.9H1948M1929.7 746.9H1948M1929.7 807.7H1948"/>
<text class="tk" x="1921.5" y="573.5">10</text>
<text class="tk" x="1921.5" y="634.9">8</text>
<text class="tk" x="1921.5" y="696.1">6</text>
<text class="tk" x="1921.5" y="757.1">4</text>
<text class="tk" x="1921.5" y="817.9">2</text>
<text class="tk" x="1921.5" y="878.9">0</text>
<path class="eb" d="M1980.7 836V839.5M1972 836h17.5M1972 839.5h17.5M2030.6 834.5V839M2021.8 834.5h17.5M2021.8 839h17.5M2081.2 626.9V657.7M2072.4 626.9h17.5M2072.4 657.7h17.5M2131.5 703.4V745.4M2122.8 703.4h17.5M2122.8 745.4h17.5"/>
<circle cx="1968.6" cy="840" r="4.1"/>
<circle cx="1980.2" cy="836.8" r="4.1"/>
<circle cx="1992.6" cy="838.5" r="4.1"/>
<circle cx="2018.5" cy="838.9" r="4.1"/>
<circle cx="2030.6" cy="834.7" r="4.1"/>
<circle cx="2042.9" cy="837.2" r="4.1"/>
<circle cx="2081.2" cy="627.5" r="4.1"/>
<circle cx="2081.2" cy="640.9" r="4.1"/>
<circle cx="2081.2" cy="659.4" r="4.1"/>
<circle cx="2119" cy="710.8" r="4.1"/>
<circle cx="2143.9" cy="714.2" r="4.1"/>
<circle cx="2131.5" cy="748.2" r="4.1"/>
<text class="pv" x="2025.4" y="589.2">P&lt;0.0001</text>
<path class="pl" d="M1977.7 597.7H2073.7"/>
<text class="pv" x="2126.6" y="589.2">P=0.0008</text>
<path class="pl" d="M2090.7 597.7H2145.4"/>
<text class="tt" x="2049" y="540.4">cGAS</text>
</g>
<g class="chart">
<rect class="bar" x="177.4" y="1408.8" width="31.5" height="46.3" fill="#4285C8"/>
<rect class="bar" x="227.9" y="1363.1" width="31.3" height="92" fill="url(#hBd)"/>
<rect class="bar" x="278.7" y="1258.4" width="31.5" height="196.7" fill="#E62A28"/>
<rect class="bar" x="329.3" y="1218" width="31.3" height="237.1" fill="url(#hRd)"/>
<path class="ax" d="M160.3 1146.8V1455.1M142.4 1455.1H378.3M142.4 1148H160.3M142.4 1224.9H160.3M142.4 1301.4H160.3M142.4 1378.6H160.3"/>
<text class="tk" x="133" y="1158.2">8</text>
<text class="tk" x="133" y="1235.1">6</text>
<text class="tk" x="133" y="1311.6">4</text>
<text class="tk" x="133" y="1388.8">2</text>
<text class="tk" x="133" y="1465.3">0</text>
<path class="eb" d="M193.2 1399.6V1415.8M184.4 1399.6h17.5M184.4 1415.8h17.5M243.8 1350.3V1374.1M235.1 1350.3h17.5M235.1 1374.1h17.5M294.4 1237.7V1276.6M285.6 1237.7h17.5M285.6 1276.6h17.5M344.7 1206.2V1228.1M335.9 1206.2h17.5M335.9 1228.1h17.5"/>
<circle cx="180.7" cy="1402.4" r="4.1"/>
<circle cx="205.6" cy="1403.4" r="4.1"/>
<circle cx="193.2" cy="1418.3" r="4.1"/>
<circle cx="243.8" cy="1348.8" r="4.1"/>
<circle cx="231.7" cy="1372.2" r="4.1"/>
<circle cx="255.9" cy="1366.2" r="4.1"/>
<circle cx="281.6" cy="1243.4" r="4.1"/>
<circle cx="306.5" cy="1248.9" r="4.1"/>
<circle cx="294.4" cy="1279.5" r="4.1"/>
<circle cx="344.7" cy="1205.2" r="4.1"/>
<circle cx="344.7" cy="1218.6" r="4.1"/>
<circle cx="344.7" cy="1229.2" r="4.1"/>
<text class="pv" x="225.1" y="1154.2">P&lt;0.0001</text>
<path class="pl" d="M183.2 1162.9H282.5"/>
<text class="pv" x="334.6" y="1154.2">P=0.1085</text>
<path class="pl" d="M293.3 1162.9H340.9"/>
<text class="tt" x="265.8" y="1117.2">Isg15</text>
</g>
<g class="chart">
<rect class="bar" x="498.9" y="1396.1" width="31.7" height="60.5" fill="#4285C8"/>
<rect class="bar" x="549.2" y="1324.2" width="32" height="132.4" fill="url(#hBd)"/>
<rect class="bar" x="600.2" y="1242" width="31.6" height="214.6" fill="#E62A28"/>
<rect class="bar" x="650.8" y="1254.1" width="31.7" height="202.5" fill="url(#hRd)"/>
<path class="ax" d="M481.8 1149.4V1456.6M463.7 1456.6H700M463.7 1150.6H481.8M463.7 1252.6H481.8M463.7 1354.6H481.8"/>
<text class="tk" x="454.3" y="1160.8">6</text>
<text class="tk" x="454.3" y="1262.8">4</text>
<text class="tk" x="454.3" y="1364.8">2</text>
<text class="tk" x="454.3" y="1466.8">0</text>
<path class="eb" d="M514.7 1384.3V1406.6M506 1384.3h17.5M506 1406.6h17.5M565.3 1280.2V1366.2M556.5 1280.2h17.5M556.5 1366.2h17.5M616.1 1209.4V1273.2M607.4 1209.4h17.5M607.4 1273.2h17.5M666.7 1192V1313.5M658 1192h17.5M658 1313.5h17.5"/>
<circle cx="514.7" cy="1383.2" r="4.1"/>
<circle cx="514.7" cy="1395.6" r="4.1"/>
<circle cx="514.7" cy="1407.3" r="4.1"/>
<circle cx="565.3" cy="1276.6" r="4.1"/>
<circle cx="565.3" cy="1331.8" r="4.1"/>
<circle cx="565.3" cy="1362" r="4.1"/>
<circle cx="616.1" cy="1209" r="4.1"/>
<circle cx="616.1" cy="1240.4" r="4.1"/>
<circle cx="616.1" cy="1273.8" r="4.1"/>
<circle cx="666.7" cy="1182.4" r="4.1"/>
<circle cx="654.4" cy="1289.7" r="4.1"/>
<circle cx="678.8" cy="1285.9" r="4.1"/>
<text class="pv" x="555.5" y="1154.2">P=0.0756</text>
<path class="pl" d="M512 1164H611.4"/>
<text class="pv" x="653.4" y="1154.2">P&gt;0.99</text>
<path class="pl" d="M622 1164H669.9"/>
<text class="tt" x="606.4" y="1123">Ifi44</text>
</g>
<g class="chart">
<rect class="bar" x="767.2" y="1344" width="31.7" height="116.8" fill="#4285C8"/>
<rect class="bar" x="817.6" y="1445.8" width="31.9" height="15" fill="url(#hBd)"/>
<rect class="bar" x="868.1" y="1285.6" width="32.4" height="175.2" fill="#E62A28"/>
<rect class="bar" x="918.9" y="1427.9" width="32" height="32.9" fill="url(#hRd)"/>
<path class="ax" d="M750.1 1153.2V1460.8M732.1 1460.8H967.9M732.1 1154.4H750.1M732.1 1256.8H750.1M732.1 1358.8H750.1"/>
<text class="tk" x="723.7" y="1164.6">6</text>
<text class="tk" x="723.7" y="1267">4</text>
<text class="tk" x="723.7" y="1369">2</text>
<text class="tk" x="723.7" y="1471">0</text>
<path class="eb" d="M783.5 1285.1V1401.7M774.8 1285.1h17.5M774.8 1401.7h17.5M833.4 1443.5V1448M824.6 1443.5h17.5M824.6 1448h17.5M884.4 1220.3V1349.2M875.6 1220.3h17.5M875.6 1349.2h17.5M934.6 1415.5V1439.1M925.9 1415.5h17.5M925.9 1439.1h17.5"/>
<circle cx="783.5" cy="1303.1" r="4.1"/>
<circle cx="783.5" cy="1316.3" r="4.1"/>
<circle cx="783.5" cy="1410.4" r="4.1"/>
<circle cx="821.3" cy="1448" r="4.1"/>
<circle cx="833.4" cy="1443.8" r="4.1"/>
<circle cx="845.7" cy="1447" r="4.1"/>
<circle cx="884.4" cy="1212.6" r="4.1"/>
<circle cx="884.4" cy="1306.1" r="4.1"/>
<circle cx="884.4" cy="1336.5" r="4.1"/>
<circle cx="934.6" cy="1414.7" r="4.1"/>
<circle cx="934.6" cy="1425.7" r="4.1"/>
<circle cx="934.6" cy="1439.6" r="4.1"/>
<text class="pv" x="809.8" y="1177.1">P=0.0003</text>
<path class="pl" d="M780.5 1188.8H833.6"/>
<text class="pv" x="916.4" y="1177.1">P&lt;0.0001</text>
<path class="pl" d="M883.6 1189.4H936.7"/>
<text class="tt" x="855.3" y="1116.1">Rig1</text>
</g>
<g class="chart">
<rect class="bar" x="199" y="1829" width="32.1" height="29.3" fill="#4285C8"/>
<rect class="bar" x="249.8" y="1803.9" width="32.1" height="54.4" fill="url(#hBd)"/>
<rect class="bar" x="300.4" y="1668" width="32.3" height="190.3" fill="#E62A28"/>
<rect class="bar" x="351.2" y="1654.3" width="31.7" height="204" fill="url(#hRd)"/>
<path class="ax" d="M181.7 1550.8V1858.3M163.6 1858.3H399.7M163.6 1552H181.7M163.6 1654H181.7M163.6 1756.3H181.7"/>
<text class="tk" x="151.7" y="1562.2">15</text>
<text class="tk" x="151.7" y="1664.2">10</text>
<text class="tk" x="151.7" y="1766.5">5</text>
<text class="tk" x="151.7" y="1868.5">0</text>
<path class="eb" d="M215.3 1819.5V1837M206.6 1819.5h17.5M206.6 1837h17.5M265.4 1794V1813.2M256.6 1794h17.5M256.6 1813.2h17.5M316.2 1645.7V1688.9M307.4 1645.7h17.5M307.4 1688.9h17.5M367 1644V1662.5M358.2 1644h17.5M358.2 1662.5h17.5"/>
<circle cx="202.4" cy="1823" r="4.1"/>
<circle cx="227.5" cy="1823.4" r="4.1"/>
<circle cx="215.3" cy="1838.7" r="4.1"/>
<circle cx="265.4" cy="1790.7" r="4.1"/>
<circle cx="253" cy="1806.4" r="4.1"/>
<circle cx="277.6" cy="1807.1" r="4.1"/>
<circle cx="316.2" cy="1648.3" r="4.1"/>
<circle cx="316.2" cy="1660.6" r="4.1"/>
<circle cx="316.2" cy="1691.5" r="4.1"/>
<circle cx="367" cy="1643.1" r="4.1"/>
<circle cx="367" cy="1653.4" r="4.1"/>
<circle cx="367" cy="1663.2" r="4.1"/>
<text class="pv" x="264.2" y="1555.2">P&lt;0.0001</text>
<path class="pl" d="M219.8 1566.6H318.4"/>
<text class="pv" x="371.1" y="1555.2">P=0.4530</text>
<path class="pl" d="M330 1566.6H376.8"/>
<text class="tt" x="270.9" y="1507.3">Usp18</text>
</g>
<g class="chart">
<rect class="bar" x="518.2" y="1767.2" width="32.2" height="87.4" fill="#4285C8"/>
<rect class="bar" x="568.4" y="1765.1" width="31.7" height="89.5" fill="url(#hBd)"/>
<rect class="bar" x="619.2" y="1629.2" width="32.2" height="225.4" fill="#E62A28"/>
<rect class="bar" x="669.8" y="1649.5" width="31.7" height="205.1" fill="url(#hRd)"/>
<path class="ax" d="M501.4 1547.5V1854.6M482.9 1854.6H719.5M482.9 1548.7H501.4M482.9 1610.2H501.4M482.9 1671.2H501.4M482.9 1732.5H501.4M482.9 1793.6H501.4"/>
<text class="tk" x="474.2" y="1558.9">5</text>
<text class="tk" x="474.2" y="1620.4">4</text>
<text class="tk" x="474.2" y="1681.4">3</text>
<text class="tk" x="474.2" y="1742.7">2</text>
<text class="tk" x="474.2" y="1803.8">1</text>
<text class="tk" x="474.2" y="1864.8">0</text>
<path class="eb" d="M534.1 1741.7V1789.6M525.4 1741.7h17.5M525.4 1789.6h17.5M584.7 1755.8V1772.8M576 1755.8h17.5M576 1772.8h17.5M635.5 1580.3V1675.2M626.8 1580.3h17.5M626.8 1675.2h17.5M685.7 1637.4V1658.8M677 1637.4h17.5M677 1658.8h17.5"/>
<circle cx="521.7" cy="1751" r="4.1"/>
<circle cx="546.1" cy="1753" r="4.1"/>
<circle cx="534.1" cy="1794" r="4.1"/>
<circle cx="572.3" cy="1755.8" r="4.1"/>
<circle cx="596.7" cy="1763.5" r="4.1"/>
<circle cx="584.3" cy="1774.4" r="4.1"/>
<circle cx="635.5" cy="1588.4" r="4.1"/>
<circle cx="635.5" cy="1614.1" r="4.1"/>
<circle cx="635.5" cy="1681" r="4.1"/>
<circle cx="685.7" cy="1637" r="4.1"/>
<circle cx="685.7" cy="1648.3" r="4.1"/>
<circle cx="685.7" cy="1659.2" r="4.1"/>
<text class="pv" x="582" y="1538.4">P&lt;0.0001</text>
<path class="pl" d="M539.6 1546.5H638.8"/>
<text class="pv" x="691.3" y="1538.4">P=0.8745</text>
<path class="pl" d="M650.1 1546.5H697.6"/>
<text class="tt" x="602.8" y="1507.3">Ifit3</text>
</g>
<g class="chart">
<rect class="bar" x="1155.9" y="1454.7" width="20.8" height="10.9" fill="#4285C8"/>
<rect class="bar" x="1190.4" y="1451.5" width="20.8" height="14.1" fill="url(#hBe)"/>
<rect class="bar" x="1224.6" y="1455.8" width="20.8" height="9.8" fill="url(#cB)"/>
<rect class="bar" x="1259.1" y="1355.1" width="21.2" height="110.5" fill="#E62A28"/>
<rect class="bar" x="1294" y="1231.2" width="20.8" height="234.4" fill="url(#hRe)"/>
<rect class="bar" x="1328.2" y="1249.7" width="20.8" height="215.9" fill="url(#cR)"/>
<path class="ax" d="M1143.4 1159.7V1465.6M1126 1465.6H1361M1126 1160.9H1143.4M1126 1222H1143.4M1126 1282.6H1143.4M1126 1343.7H1143.4M1126 1404.7H1143.4"/>
<text class="tk" x="1115.8" y="1171.1">25</text>
<text class="tk" x="1115.8" y="1232.2">20</text>
<text class="tk" x="1115.8" y="1292.8">15</text>
<text class="tk" x="1115.8" y="1353.9">10</text>
<text class="tk" x="1115.8" y="1414.9">5</text>
<text class="tk" x="1115.8" y="1475.8">0</text>
<path class="eb" d="M1269.9 1330.6V1376.4M1263.4 1330.6h13M1263.4 1376.4h13M1304.4 1217.2V1244.4M1297.9 1217.2h13M1297.9 1244.4h13M1338.6 1217.6V1280.8M1332.1 1217.6h13M1332.1 1280.8h13"/>
<circle cx="1159.1" cy="1453.8" r="4.1"/>
<circle cx="1167" cy="1452" r="4.1"/>
<circle cx="1174" cy="1453.1" r="4.1"/>
<circle cx="1193.6" cy="1451" r="4.1"/>
<circle cx="1201.2" cy="1447.7" r="4.1"/>
<circle cx="1208.4" cy="1449.9" r="4.1"/>
<circle cx="1227.8" cy="1458.6" r="4.1"/>
<circle cx="1235.5" cy="1453.1" r="4.1"/>
<circle cx="1242.7" cy="1453.8" r="4.1"/>
<circle cx="1269.9" cy="1326.6" r="4.1"/>
<circle cx="1262.3" cy="1368.1" r="4.1"/>
<circle cx="1276.5" cy="1365.9" r="4.1"/>
<circle cx="1297.2" cy="1222" r="4.1"/>
<circle cx="1311.4" cy="1222.6" r="4.1"/>
<circle cx="1304.4" cy="1245.3" r="4.1"/>
<circle cx="1338.6" cy="1220.9" r="4.1"/>
<circle cx="1338.6" cy="1243.1" r="4.1"/>
<circle cx="1338.6" cy="1281.9" r="4.1"/>
<text class="pv" x="1218.5" y="1171.8">P&lt;0.0001</text>
<path class="pl" d="M1166.3 1179H1265.5"/>
<text class="pv" x="1310.2" y="1171.8">P&lt;0.0001</text>
<path class="pl" d="M1269.3 1179H1303.7"/>
<text class="pv" x="1309.2" y="1140.6">P&lt;0.0001</text>
<path class="pl" d="M1269.9 1148.9H1338.6"/>
<text class="tt" x="1248.8" y="1116.2">Isg15</text>
</g>
<g class="chart">
<rect class="bar" x="1457.4" y="1454.3" width="20.8" height="11.3" fill="#4285C8"/>
<rect class="bar" x="1491.6" y="1453.6" width="21" height="12" fill="url(#hBe)"/>
<rect class="bar" x="1526.1" y="1459.1" width="20.8" height="6.5" fill="url(#cB)"/>
<rect class="bar" x="1560.5" y="1363.8" width="20.8" height="101.8" fill="#E62A28"/>
<rect class="bar" x="1594.8" y="1261.7" width="20.8" height="203.9" fill="url(#hRe)"/>
<rect class="bar" x="1629" y="1304.9" width="21" height="160.7" fill="url(#cR)"/>
<path class="ax" d="M1444.9 1159.7V1465.6M1426.8 1465.6H1662.5M1426.8 1160.9H1444.9M1426.8 1237.2H1444.9M1426.8 1313.1H1444.9M1426.8 1389.2H1444.9"/>
<text class="tk" x="1416.6" y="1171.1">20</text>
<text class="tk" x="1416.6" y="1247.4">15</text>
<text class="tk" x="1416.6" y="1323.3">10</text>
<text class="tk" x="1416.6" y="1399.4">5</text>
<text class="tk" x="1416.6" y="1475.8">0</text>
<path class="eb" d="M1467.8 1450.3V1457.5M1461.3 1450.3h13M1461.3 1457.5h13M1536.5 1453.1V1464M1530 1453.1h13M1530 1464h13M1570.9 1337.5V1388.1M1564.4 1337.5h13M1564.4 1388.1h13M1605.2 1235.7V1284.8M1598.7 1235.7h13M1598.7 1284.8h13M1639.6 1274.3V1332.7M1633.1 1274.3h13M1633.1 1332.7h13"/>
<circle cx="1460.1" cy="1458.6" r="4.1"/>
<circle cx="1468.4" cy="1449.9" r="4.1"/>
<circle cx="1475" cy="1450.5" r="4.1"/>
<circle cx="1494.6" cy="1453.8" r="4.1"/>
<circle cx="1502" cy="1449.9" r="4.1"/>
<circle cx="1509.2" cy="1452" r="4.1"/>
<circle cx="1528.8" cy="1453.8" r="4.1"/>
<circle cx="1543" cy="1453.8" r="4.1"/>
<circle cx="1528.8" cy="1464.7" r="4.1"/>
<circle cx="1570.9" cy="1336.5" r="4.1"/>
<circle cx="1570.9" cy="1362.6" r="4.1"/>
<circle cx="1570.9" cy="1388.1" r="4.1"/>
<circle cx="1605.2" cy="1238.3" r="4.1"/>
<circle cx="1605.2" cy="1255.8" r="4.1"/>
<circle cx="1605.2" cy="1288" r="4.1"/>
<circle cx="1632.4" cy="1284.1" r="4.1"/>
<circle cx="1646.6" cy="1288" r="4.1"/>
<circle cx="1639.6" cy="1337.5" r="4.1"/>
<text class="pv" x="1519.5" y="1172.4">P&lt;0.0001</text>
<path class="pl" d="M1467.8 1178.3H1566.4"/>
<text class="pv" x="1611" y="1172.4">P&lt;0.0001</text>
<path class="pl" d="M1570.7 1178.3H1604.7"/>
<text class="pv" x="1615.5" y="1141.3">P=0.0004</text>
<path class="pl" d="M1570.7 1148.5H1640"/>
<text class="tt" x="1550.1" y="1117.3">Usp18</text>
</g>
<g class="chart">
<rect class="bar" x="1744.3" y="1442.1" width="20.4" height="19.8" fill="#4285C8"/>
<rect class="bar" x="1778.5" y="1448.2" width="21" height="13.7" fill="url(#hBe)"/>
<rect class="bar" x="1812.5" y="1446.7" width="21.3" height="15.2" fill="url(#cB)"/>
<rect class="bar" x="1847.4" y="1370.1" width="20.9" height="91.8" fill="#E62A28"/>
<rect class="bar" x="1881.7" y="1306" width="20.8" height="155.9" fill="url(#hRe)"/>
<rect class="bar" x="1916.1" y="1299.2" width="20.9" height="162.7" fill="url(#cR)"/>
<path class="ax" d="M1731.8 1156.8V1461.9M1713.7 1461.9H1949.9M1713.7 1158H1731.8M1713.7 1259H1731.8M1713.7 1360.4H1731.8"/>
<text class="tk" x="1704.2" y="1168.2">15</text>
<text class="tk" x="1704.2" y="1269.2">10</text>
<text class="tk" x="1704.2" y="1370.6">5</text>
<text class="tk" x="1704.2" y="1472.1">0</text>
<path class="eb" d="M1823.4 1434.2V1458.6M1816.9 1434.2h13M1816.9 1458.6h13M1857.9 1356.1V1382.3M1851.4 1356.1h13M1851.4 1382.3h13M1892.1 1291.7V1319M1885.6 1291.7h13M1885.6 1319h13M1926.6 1268.4V1327.7M1920.1 1268.4h13M1920.1 1327.7h13"/>
<circle cx="1747.5" cy="1444.4" r="4.1"/>
<circle cx="1754.7" cy="1436.8" r="4.1"/>
<circle cx="1761.7" cy="1441.6" r="4.1"/>
<circle cx="1781.5" cy="1448.3" r="4.1"/>
<circle cx="1788.9" cy="1445.5" r="4.1"/>
<circle cx="1796.1" cy="1446.6" r="4.1"/>
<circle cx="1816.2" cy="1435.7" r="4.1"/>
<circle cx="1830.6" cy="1442.2" r="4.1"/>
<circle cx="1823.4" cy="1458.6" r="4.1"/>
<circle cx="1850.7" cy="1360" r="4.1"/>
<circle cx="1864.8" cy="1362.6" r="4.1"/>
<circle cx="1857.2" cy="1384.4" r="4.1"/>
<circle cx="1885.1" cy="1295" r="4.1"/>
<circle cx="1899.1" cy="1298.9" r="4.1"/>
<circle cx="1892.1" cy="1320.1" r="4.1"/>
<circle cx="1919.4" cy="1277.6" r="4.1"/>
<circle cx="1933.1" cy="1283.7" r="4.1"/>
<circle cx="1926.6" cy="1331.7" r="4.1"/>
<text class="pv" x="1801.9" y="1171.8">P=0.0015</text>
<path class="pl" d="M1754.3 1179H1853.3"/>
<text class="pv" x="1900.9" y="1171.8">P=0.0069</text>
<path class="pl" d="M1857.2 1179H1892.1"/>
<text class="pv" x="1902.8" y="1141.3">P=0.0020</text>
<path class="pl" d="M1857.2 1148.9H1926.6"/>
<text class="tt" x="1839" y="1122.3">Ifit3</text>
</g>
<g class="chart">
<rect class="bar" x="1167.9" y="1834.9" width="21.3" height="18.5" fill="#4285C8"/>
<rect class="bar" x="1202.1" y="1849.1" width="20.9" height="4.3" fill="url(#hBe)"/>
<rect class="bar" x="1236.6" y="1843.6" width="21.3" height="9.8" fill="url(#cB)"/>
<rect class="bar" x="1271.1" y="1663.7" width="21.2" height="189.7" fill="#E62A28"/>
<rect class="bar" x="1305.3" y="1807" width="21.3" height="46.4" fill="url(#hRe)"/>
<rect class="bar" x="1340.2" y="1716.7" width="20.8" height="136.7" fill="url(#cR)"/>
<path class="ax" d="M1155.8 1546.8V1853.4M1138 1853.4H1373.6M1138 1548H1155.8M1138 1649.7H1155.8M1138 1751.5H1155.8"/>
<text class="tk" x="1128.2" y="1558.2">15</text>
<text class="tk" x="1128.2" y="1659.9">10</text>
<text class="tk" x="1128.2" y="1761.7">5</text>
<text class="tk" x="1128.2" y="1863.6">0</text>
<path class="eb" d="M1179 1825V1844.2M1172.5 1825h13M1172.5 1844.2h13M1247 1832.2V1853M1240.5 1832.2h13M1240.5 1853h13M1281.5 1647.9V1678.5M1275 1647.9h13M1275 1678.5h13M1315.9 1803.2V1809.3M1309.4 1803.2h13M1309.4 1809.3h13M1350.2 1652.3V1780.5M1343.7 1652.3h13M1343.7 1780.5h13"/>
<circle cx="1171.3" cy="1825" r="4.1"/>
<circle cx="1185.9" cy="1832.2" r="4.1"/>
<circle cx="1178.3" cy="1843.8" r="4.1"/>
<circle cx="1205.1" cy="1848.6" r="4.1"/>
<circle cx="1212.8" cy="1846.8" r="4.1"/>
<circle cx="1220.2" cy="1848.2" r="4.1"/>
<circle cx="1247" cy="1831.1" r="4.1"/>
<circle cx="1254.6" cy="1845.3" r="4.1"/>
<circle cx="1240" cy="1851.9" r="4.1"/>
<circle cx="1281.5" cy="1647.9" r="4.1"/>
<circle cx="1281.5" cy="1661" r="4.1"/>
<circle cx="1281.5" cy="1678.9" r="4.1"/>
<circle cx="1308.7" cy="1809.3" r="4.1"/>
<circle cx="1315.7" cy="1802.4" r="4.1"/>
<circle cx="1322.9" cy="1805" r="4.1"/>
<circle cx="1350.2" cy="1671.5" r="4.1"/>
<circle cx="1350.2" cy="1689.4" r="4.1"/>
<circle cx="1350.2" cy="1789.3" r="4.1"/>
<text class="pv" x="1221.2" y="1565.5">P&lt;0.0001</text>
<path class="pl" d="M1173.9 1573.8H1273.2"/>
<text class="pv" x="1320.3" y="1565.5">P&lt;0.0001</text>
<path class="pl" d="M1280.2 1573.8H1315.1"/>
<text class="pv" x="1322.8" y="1535.6">P=0.0405</text>
<path class="pl" d="M1277.5 1543.9H1347.3"/>
<text class="tt" x="1248.4" y="1517.1">Mavs</text>
</g>
<g class="chart">
<rect class="bar" x="1472.2" y="1844.3" width="21.2" height="9.7" fill="#4285C8"/>
<rect class="bar" x="1506.4" y="1838.2" width="21.5" height="15.8" fill="url(#hBe)"/>
<rect class="bar" x="1575.6" y="1729.8" width="21" height="124.2" fill="#E62A28"/>
<rect class="bar" x="1609.6" y="1627.1" width="21.3" height="226.9" fill="url(#hRe)"/>
<rect class="bar" x="1643.8" y="1843.6" width="21.3" height="10.4" fill="url(#cR)"/>
<path class="ax" d="M1460.1 1547.1V1854M1442 1854H1693M1442 1548.3H1460.1M1442 1609.8H1460.1M1442 1670.8H1460.1M1442 1731.9H1460.1M1442 1793H1460.1"/>
<text class="tk" x="1432.3" y="1558.5">25</text>
<text class="tk" x="1432.3" y="1620">20</text>
<text class="tk" x="1432.3" y="1681">15</text>
<text class="tk" x="1432.3" y="1742.1">10</text>
<text class="tk" x="1432.3" y="1803.2">5</text>
<text class="tk" x="1432.3" y="1864.2">0</text>
<path class="eb" d="M1585.6 1713.4V1744.6M1579.1 1713.4h13M1579.1 1744.6h13M1620.4 1609.3V1643.1M1613.9 1609.3h13M1613.9 1643.1h13"/>
<circle cx="1475.4" cy="1844.7" r="4.1"/>
<circle cx="1483" cy="1841" r="4.1"/>
<circle cx="1489.6" cy="1842" r="4.1"/>
<circle cx="1509.7" cy="1837.7" r="4.1"/>
<circle cx="1517.3" cy="1835.1" r="4.1"/>
<circle cx="1524.5" cy="1835.9" r="4.1"/>
<circle cx="1543.7" cy="1855.1" r="4.1"/>
<circle cx="1551.1" cy="1854.7" r="4.1"/>
<circle cx="1558.7" cy="1854.7" r="4.1"/>
<circle cx="1585.6" cy="1710.8" r="4.1"/>
<circle cx="1578.6" cy="1740.6" r="4.1"/>
<circle cx="1592.7" cy="1734.1" r="4.1"/>
<circle cx="1620.4" cy="1611.5" r="4.1"/>
<circle cx="1620.4" cy="1621.3" r="4.1"/>
<circle cx="1620.4" cy="1645.3" r="4.1"/>
<circle cx="1647.1" cy="1843.8" r="4.1"/>
<circle cx="1654.3" cy="1838.8" r="4.1"/>
<circle cx="1661.9" cy="1842" r="4.1"/>
<text class="pv" x="1525.5" y="1565.5">P&lt;0.0001</text>
<path class="pl" d="M1480.9 1572.7H1580.1"/>
<text class="pv" x="1624.6" y="1565.5">P&lt;0.0001</text>
<path class="pl" d="M1583.8 1572.7H1618.7"/>
<text class="pv" x="1625.7" y="1535">P&lt;0.0001</text>
<path class="pl" d="M1584.5 1542.8H1654.3"/>
<text class="tt" x="1546.1" y="1517.1">Mda5</text>
</g>
</svg></body></html>
